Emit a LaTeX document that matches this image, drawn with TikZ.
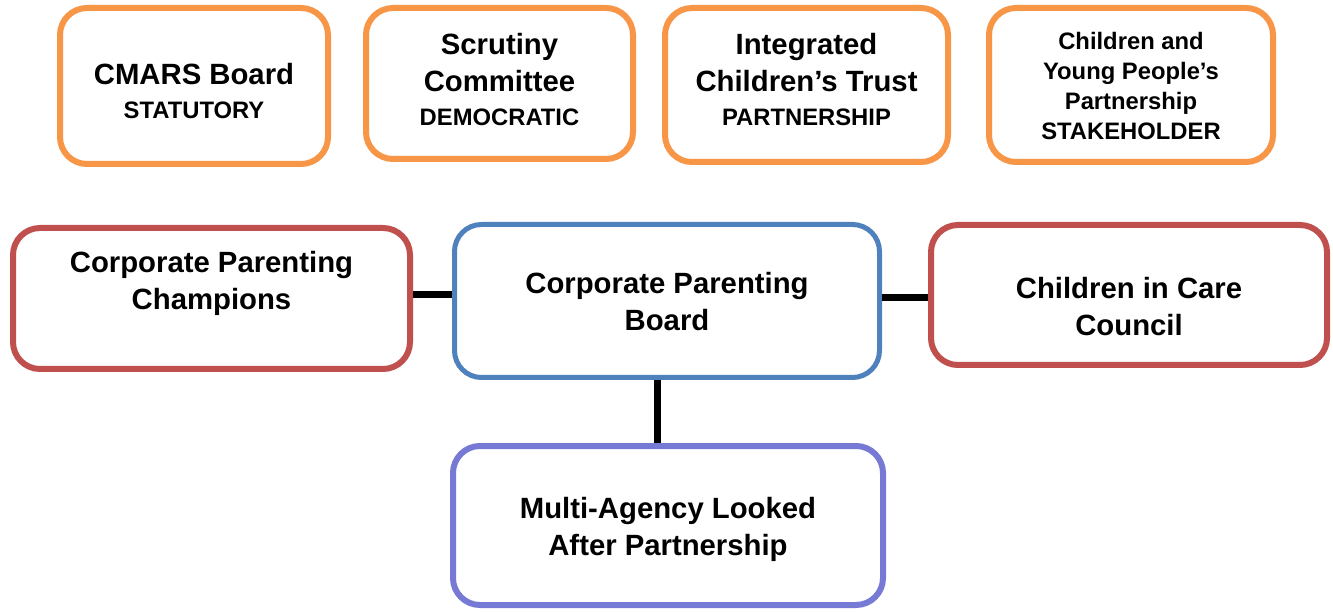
\documentclass[tikz,border=0pt]{standalone}
\usepackage{fontspec}
\setmainfont{Liberation Sans}
\definecolor{orangeb}{RGB}{247,150,70}
\definecolor{redb}{RGB}{192,80,77}
\definecolor{blueb}{RGB}{79,129,189}
\definecolor{purpleb}{RGB}{118,122,212}
\newcommand{\bigf}{\bfseries\fontsize{29.3}{37}\selectfont}
\newcommand{\subf}{\bfseries\fontsize{23.8}{30}\selectfont}
\begin{document}
\begin{tikzpicture}[x=1pt,y=1pt,
  box/.style={draw, rounded corners=27pt, line width=6pt, fill=white, inner sep=0pt},
  topbox/.style={box, draw=orangeb},
  sidebox/.style={box, draw=redb},
  txt/.style={align=center, font=\bigf, inner sep=0pt},
  conn/.style={draw=black, line width=7pt}]
\useasboundingbox (0,0) rectangle (1333,611);
% top row
\node[topbox, minimum width=268pt, minimum height=156pt] (cmars) at (194,525) {};
\node[topbox, minimum width=267pt, minimum height=151pt] (scrut) at (499.5,527.5) {};
\node[topbox, minimum width=283pt, minimum height=154pt] (ict) at (806.5,526) {};
\node[topbox, minimum width=284pt, minimum height=154pt] (cypp) at (1131,526) {};
\node[txt] (tcmars) at (194,520) {CMARS Board\\[-3pt]{\subf STATUTORY}};
\node[txt] (tscrut) at (499.5,531) {Scrutiny\\Committee\\[-3pt]{\subf DEMOCRATIC}};
\node[txt] (tict) at (806.5,531) {Integrated\\Children’s Trust\\[-3pt]{\subf PARTNERSHIP}};
\node[txt, font=\subf] (tcypp) at (1131,525) {Children and\\Young People’s\\Partnership\\STAKEHOLDER};
% middle row
\node[sidebox, minimum width=397pt, minimum height=141pt] (champ) at (211.5,312.5) {};
\node[box, draw=blueb, line width=5pt, minimum width=425pt, minimum height=153pt] (cpb) at (667,310) {};
\node[sidebox, minimum width=396pt, minimum height=140pt] (cicc) at (1129,316) {};
\node[txt] (tchamp) at (211.5,327.5) {Corporate Parenting\\Champions};
\node[txt] (tcpb) at (667,309.5) {Corporate Parenting\\Board};
\node[txt] (tcicc) at (1129,304) {Children in Care\\Council};
% bottom
\node[box, draw=purpleb, minimum width=430pt, minimum height=159pt] (mal) at (668,85.5) {};
\node[txt] (tmal) at (668,82) {Multi-Agency Looked\\After Partnership};
% connectors
\draw[conn] (champ.east |- 0,316) -- (cpb.west |- 0,316);
\draw[conn] (cpb.east |- 0,313) -- (cicc.west |- 0,313);
\draw[conn] (cpb.south -| 657,0) -- (mal.north -| 657,0);
\end{tikzpicture}
\end{document}
